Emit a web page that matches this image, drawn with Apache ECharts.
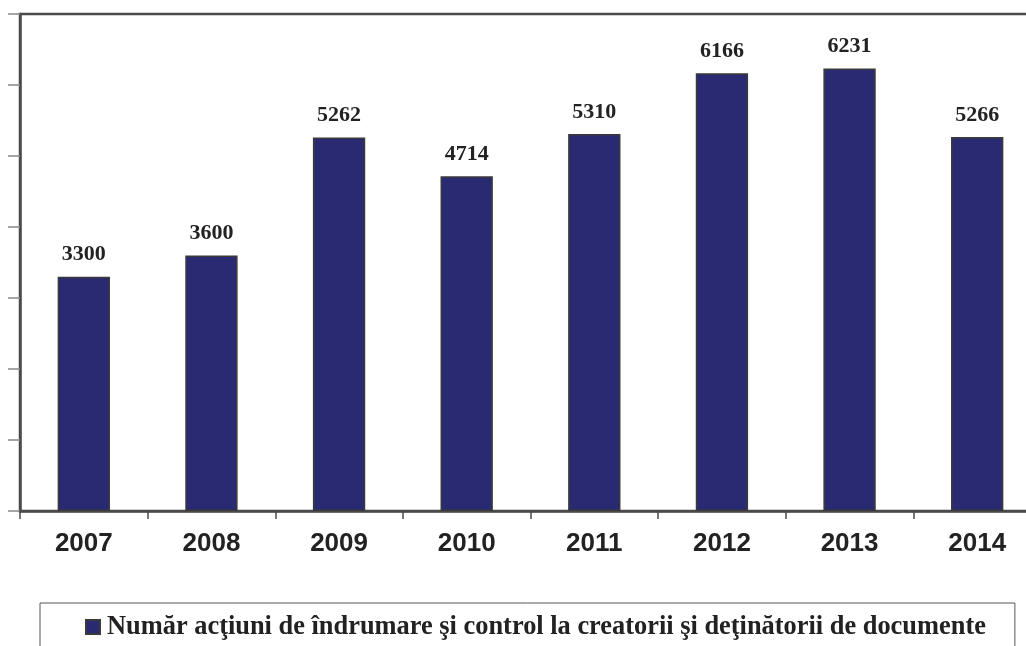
<!DOCTYPE html>
<html><head><meta charset="utf-8">
<script src="https://cdn.jsdelivr.net/npm/echarts@6/dist/echarts.min.js"></script>
<style>html,body{margin:0;padding:0;background:#fff}#c{width:1026px;height:646px}</style>
</head><body><div id="c"></div>
<script>
const years = ['2007','2008','2009','2010','2011','2012','2013','2014'];
const values = [3300,3600,5262,4714,5310,6166,6231,5266];
const seriesName = 'Număr acţiuni de îndrumare şi control la creatorii şi deţinătorii de documente';
const chart = echarts.init(document.getElementById('c'));
chart.setOption({
  animation:false,
  backgroundColor:'#fff',
  grid:{left:20,top:14,width:1021,bottom:135,show:true,borderColor:'#4a4a4a',borderWidth:2.5,containLabel:false,outerBoundsMode:'none'},
  xAxis:{type:'category',data:years,
    axisLine:{lineStyle:{color:'#4a4a4a',width:2.5}},
    axisTick:{show:true,length:8,lineStyle:{color:'#4a4a4a',width:1.5}},
    axisLabel:{fontFamily:'Liberation Sans, Arial',fontWeight:'bold',fontSize:26,color:'#222',margin:20}},
  yAxis:{type:'value',min:0,max:7000,interval:1000,
    axisLine:{show:true,lineStyle:{color:'#4a4a4a',width:2.5}},
    axisTick:{show:true,length:12,lineStyle:{color:'#888',width:1.5}},
    axisLabel:{show:false},splitLine:{show:false}},
  legend:{left:40,top:603,data:[seriesName],
    padding:[11,29,30,45],borderColor:'#555',borderWidth:1,
    itemWidth:14,itemHeight:14,itemGap:0,icon:'rect',
    textStyle:{fontFamily:'Liberation Serif, Times New Roman',fontWeight:'bold',fontSize:26.4,color:'#222',padding:[0,0,0,2]}},
  series:[{name:seriesName,type:'bar',data:values,barWidth:'41%',
    itemStyle:{color:'#2a2a72',borderColor:'#3a3a3a',borderWidth:1.5},
    label:{show:true,position:'top',distance:11,fontFamily:'Liberation Serif, Times New Roman',fontWeight:'bold',fontSize:22,color:'#222'}}]
});
</script></body></html>
